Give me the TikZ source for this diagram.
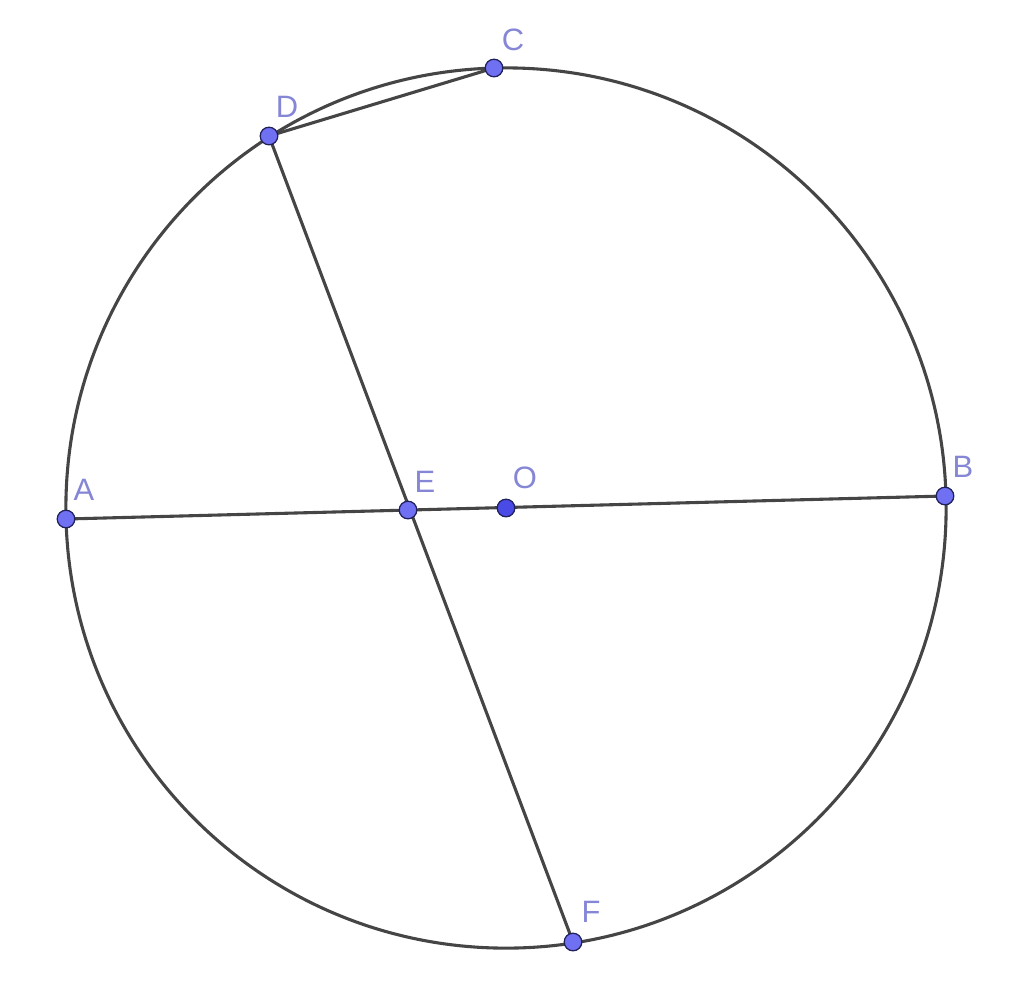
\documentclass[tikz,border=0pt]{standalone}
\usepackage{fontspec}
\setmainfont{Liberation Sans}
\usepackage{xcolor}
\usetikzlibrary{positioning}

\definecolor{segcol}{HTML}{454545}
\definecolor{ptfill}{HTML}{6F70F2}
\definecolor{ptdark}{HTML}{4A4BE6}
\definecolor{ptedge}{HTML}{20205A}
\definecolor{labcol}{HTML}{8586D6}

\begin{document}
\begin{tikzpicture}[
    x=0.025cm, y=-0.025cm,
    seg/.style={draw=segcol, line width=2.2pt},
    pt/.style={circle, fill=ptfill, draw=ptedge, line width=0.9pt, inner sep=0pt, minimum size=0.44cm},
    ctr/.style={pt, fill=ptdark},
    lab/.style={text=labcol, font=\fontsize{22}{26}\selectfont, inner sep=0pt}
]
\useasboundingbox (0,0) rectangle (1024,996);

% --- Points ---
\coordinate (O) at (506,508);
\coordinate (A) at (66,519);
\coordinate (B) at (945,496);
\coordinate (C) at (494,68);
\coordinate (D) at (269,136);
\coordinate (E) at (408,510);
\coordinate (F) at (573,942);

% --- Circle and chords ---
\draw[seg] (O) circle[radius=11cm];
\draw[seg] (A) -- (B);
\draw[seg] (D) -- (F);
\draw[seg] (D) -- (C);

% --- Markers ---
\foreach \p in {A,B,C,D,E,F}
  \node[pt] at (\p) {};
\node[ctr] at (O) {};

% --- Labels ---
\node[lab] (labA) at (84,490) {A};
\node[lab] (labB) at (963,467) {B};
\node[lab] (labC) at (513,40) {C};
\node[lab] (labD) at (287,107) {D};
\node[lab] (labE) at (425,482) {E};
\node[lab] (labO) at (525,478) {O};
\node[lab] (labF) at (591,912) {F};

\end{tikzpicture}
\end{document}
